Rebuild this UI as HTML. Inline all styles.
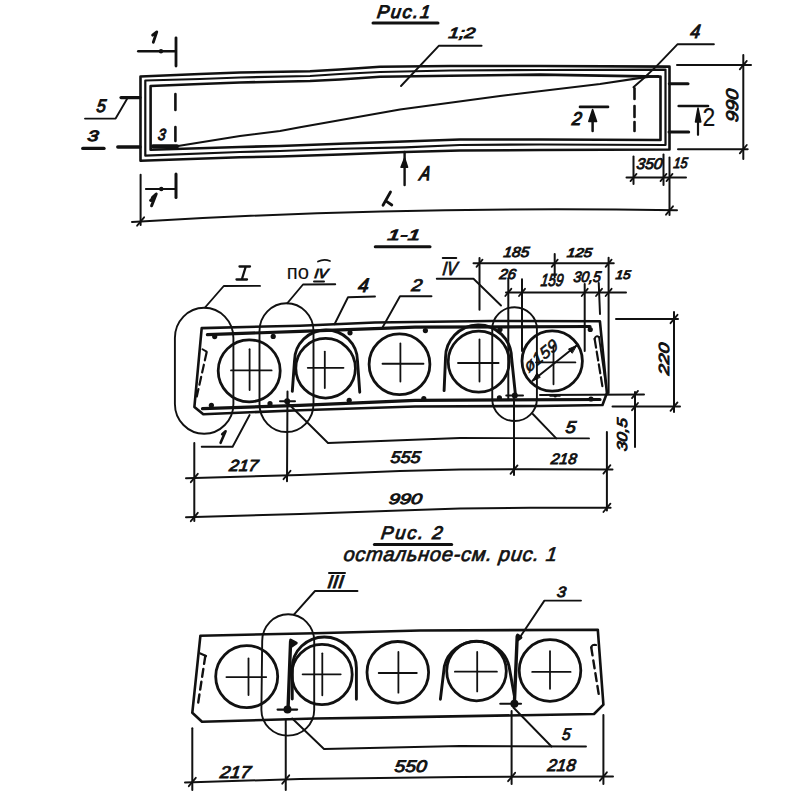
<!DOCTYPE html>
<html><head><meta charset="utf-8"><style>
html,body{margin:0;padding:0;background:#fff;}
svg{display:block;}
text{fill:#111;}
</style></head><body>
<svg width="800" height="800" viewBox="0 0 800 800">
<rect width="800" height="800" fill="#fff"/>
<g fill="none" stroke="#111" stroke-linecap="round" stroke-linejoin="round">
<path d="M373,23 L438,23" stroke-width="3" />
<path d="M140.5,76.5 L200,74 L240,72.5 L310,71.25 L340,69.5 L380,66.75 L450,66 L540,66 L669.5,66.6 L669.5,149.5 L540,150 L460,150.5 L405,152 L340,154.5 L280,156.5 L240,157.25 L140.5,160.8 Z" stroke-width="2.6" />
<path d="M145.3,80.5 L200,79 L240,77.5 L310,76 L340,74 L380,72 L450,70.5 L540,70 L665.5,69.6 L665.5,145 L540,144.5 L460,145 L405,147.3 L340,148.75 L280,151 L240,152 L145.3,155.6 Z" stroke-width="2.2" />
<path d="M150.6,86 L200,84 L240,82.5 L310,81 L340,79.5 L380,76.75 L450,75.75 L540,74.6 L660.5,76.6 L660.5,140 L540,139.5 L460,139.5 L340,143.75 L280,146 L240,147 L150.6,149.8 Z" stroke-width="2.6" />
<path d="M153,146.5 L178,146 L240,136 L280,131 L300,127.2 L400,109.5 L500,96 L600,84 L644,77.4 L658,76" stroke-width="2.1" />
<path d="M153,146.3 L177,146.3" stroke-width="4.2" />
<path d="M175.4,94 L175.4,110" stroke-width="2.6" />
<path d="M175.4,127 L175.4,141" stroke-width="2.6" />
<path d="M634.5,88.4 L634.5,99" stroke-width="2.6" />
<path d="M634.5,106 L634.5,117" stroke-width="2.6" />
<path d="M634.5,122 L634.5,131" stroke-width="2.6" />
<path d="M176,37.8 L176,66" stroke-width="2.8" />
<path d="M138.3,51.3 L175.5,51.3" stroke-width="2.6" />
<circle cx="161" cy="51.3" r="2.2" fill="#111" stroke="none"/>
<path d="M176,174 L176,197.5" stroke-width="3" />
<path d="M145.9,189 L175.5,189" stroke-width="2" />
<circle cx="161.3" cy="189" r="2.2" fill="#111" stroke="none"/>
<path d="M153.3,42.3 L156.8,31.8 L152.6,35.2" stroke-width="2.8" />
<path d="M151.6,205.8 L156.2,194 L152.4,197.6 M151.5,199.5 L150.6,200.5" stroke-width="3" />
<path d="M121,97.6 L140,97.6" stroke-width="3.2" />
<path d="M85,118.6 L115.6,118.6 L127,99" stroke-width="1.9" />
<path d="M82.8,148.4 L104,148.4" stroke-width="3.4" />
<path d="M117.8,147 L140,147" stroke-width="3.4" />
<path d="M401,86 L438.75,45.8 L481.6,45.8" stroke-width="1.9" />
<path d="M633.4,87.2 L644,78 L656.8,65.9 L677.4,44.3 L713.9,44.3" stroke-width="1.9" />
<path d="M404.6,152 L404.6,185" stroke-width="2.4" />
<path d="M401,167.3 L404.6,158 L407.6,167.3 Z" stroke-width="1.5" fill="#111"/>
<path d="M390.5,192 L383,205.2 M385.8,200.8 L391.8,205" stroke-width="2.8" />
<path d="M132,222 Q395.5,205.85 677,210.3" stroke-width="2.0" />
<path d="M140.6,174.8 L140.6,225" stroke-width="2.0" />
<path d="M137.1,225.7 L144.1,217.3" stroke-width="1.8" />
<path d="M669.5,157.5 L669.5,215" stroke-width="2.0" />
<path d="M666.0,214.7 L673.0,206.3" stroke-width="1.8" />
<path d="M626.5,177.5 L686,177.5" stroke-width="2.0" />
<path d="M633.5,156.5 L633.5,184" stroke-width="2.0" />
<path d="M663.5,154.5 L663.5,185" stroke-width="2.0" />
<path d="M630.5,181.1 L636.5,173.9" stroke-width="1.8" />
<path d="M660.5,181.1 L666.5,173.9" stroke-width="1.8" />
<path d="M666.5,181.1 L672.5,173.9" stroke-width="1.8" />
<path d="M580,106.9 L608,106.9" stroke-width="2.6" />
<path d="M592.6,118 L592.6,131" stroke-width="2.5" />
<path d="M588.8,121.5 L592.6,109.5 L596.6,121.5 Z" stroke-width="1.5" fill="#111"/>
<path d="M669.3,83.8 L688,83.8" stroke-width="3" />
<path d="M669,132 L688.7,132" stroke-width="3" />
<path d="M678.7,106 L708,106" stroke-width="2.6" />
<path d="M698,118 L698,134.8" stroke-width="2.2" />
<path d="M695.5,122 L698,108 L700.8,122 Z" stroke-width="1.5" fill="#111"/>
<path d="M677,65.1 L751,65.1" stroke-width="2.0" />
<path d="M678,149.2 L747.7,149.2" stroke-width="2.0" />
<path d="M743.3,55 L743.3,159" stroke-width="2.0" />
<path d="M739.8,69.3 L746.8,60.89999999999999" stroke-width="1.8" />
<path d="M739.8,153.39999999999998 L746.8,145.0" stroke-width="1.8" />
<path d="M375.25,246.75 L430,246.75" stroke-width="3" />
<path d="M201.7,328.1 L300,325.7 L375,322.5 L490,321 L599.9,321.25 L606.9,393 L602.5,405 L540,406 L415,406.5 L300,410.2 L203.3,414.25 L194.4,406.9 Z" stroke-width="2.6" />
<path d="M207.4,334.6 L300,331.4 L415,327.2 L590,326.5" stroke-width="3.2" />
<path d="M202.5,408.6 L300,405.3 L415,400.3 L600,399.5" stroke-width="3.2" />
<path d="M540,395 L644,394.5" stroke-width="2.0" />
<circle cx="249.2" cy="370.8" r="31" stroke-width="2.8"/>
<path d="M231,370.4 L271.6,370.4" stroke-width="1.8" />
<path d="M249.6,349.25 L249.6,390" stroke-width="1.8" />
<circle cx="325.6" cy="368.25" r="29.8" stroke-width="2.8"/>
<path d="M307.75,367.8 L343.5,367.8" stroke-width="1.8" />
<path d="M324.8,351.6 L324.8,388.1" stroke-width="1.8" />
<circle cx="399.5" cy="364.2" r="30.4" stroke-width="2.8"/>
<path d="M382.5,363.75 L423.5,363.75" stroke-width="1.8" />
<path d="M400.4,343.4 L400.4,381.6" stroke-width="1.8" />
<circle cx="478.7" cy="361.7" r="30.5" stroke-width="2.8"/>
<path d="M458,363 L498.6,363" stroke-width="1.8" />
<path d="M479.5,339.4 L479.5,381.6" stroke-width="1.8" />
<circle cx="552.2" cy="361" r="30.2" stroke-width="2.8"/>
<path d="M536,362.4 L575.4,362.4" stroke-width="1.8" />
<path d="M553.5,345.75 L553.5,384.25" stroke-width="1.8" />
<path d="M292.3,391.4 L294.5,361 A31.5,31 0 0 1 357.5,361 L359.75,392.2" stroke-width="2.9" />
<path d="M444.1,390.6 L445.5,358.6 A33,33 0 0 1 511.5,357.25 L515.6,396.25" stroke-width="2.9" />
<circle cx="214.7" cy="336.6" r="2.6" fill="#111" stroke="none"/>
<circle cx="273.2" cy="336.4" r="2.6" fill="#111" stroke="none"/>
<circle cx="350" cy="332.8" r="2.6" fill="#111" stroke="none"/>
<circle cx="425.4" cy="330.6" r="2.6" fill="#111" stroke="none"/>
<circle cx="500" cy="329.5" r="2.6" fill="#111" stroke="none"/>
<circle cx="590.25" cy="329.5" r="2.6" fill="#111" stroke="none"/>
<circle cx="211.4" cy="405.3" r="2.6" fill="#111" stroke="none"/>
<circle cx="270" cy="403.7" r="2.6" fill="#111" stroke="none"/>
<circle cx="349.2" cy="400.3" r="2.6" fill="#111" stroke="none"/>
<circle cx="423.8" cy="398.7" r="2.6" fill="#111" stroke="none"/>
<circle cx="499.4" cy="397.9" r="2.6" fill="#111" stroke="none"/>
<circle cx="591" cy="399" r="2.6" fill="#111" stroke="none"/>
<circle cx="287.2" cy="401.2" r="3" fill="#111" stroke="none"/>
<path d="M280,401.2 L295,401.2" stroke-width="2" />
<circle cx="514.8" cy="395.6" r="3" fill="#111" stroke="none"/>
<path d="M506.25,395.6 L523,395.6" stroke-width="2" />
<circle cx="555.25" cy="396" r="1.6" fill="#111" stroke="none"/>
<path d="M550,396 L560,396" stroke-width="1.5" />
<path d="M202.5,349.25 L206.6,351.7" stroke-width="2" />
<path d="M206.6,352.5 L196.8,396.4" stroke-width="2.2" stroke-dasharray="8 4.5"/>
<path d="M594.6,338.75 Q596,335 599,337" stroke-width="2" />
<path d="M594.6,338.75 L602.5,386.9" stroke-width="2.2" stroke-dasharray="9 4"/>
<path d="M599,337 L606,386" stroke-width="1.8" />
<path d="M174.9,338 A29,30 0 0 1 233.4,338 L233.4,404 A29.25,29.75 0 0 1 174.9,404 Z" stroke-width="1.9" />
<path d="M259.5,331 A27,27.75 0 0 1 313.5,331 L313.5,404 A27,28 0 0 1 259.5,404 Z" stroke-width="1.9" />
<path d="M492.25,329 A22.3,21.75 0 0 1 536.9,329 L536.9,399 A22.3,22 0 0 1 492.25,399 Z" stroke-width="1.9" />
<path d="M205,307.5 L223.75,286 L260,285.9" stroke-width="1.9" />
<path d="M239.5,266.5 L250,266.5 M245.8,266.5 L241.8,279.5 M236.5,279.5 L247,279.5" stroke-width="2.3" />
<path d="M287.25,303.25 L303,284.5 L335.25,284.2" stroke-width="1.9" />
<path d="M318,261.5 Q324,258.5 330,261" stroke-width="1.8" />
<path d="M314,281.5 L324,281.5" stroke-width="2" />
<path d="M334.5,324.25 L348,297.25 L375,296.5" stroke-width="1.9" />
<path d="M382.75,327 L400,296.25 L431.5,296.25" stroke-width="1.9" />
<path d="M436.75,278.7 L473.5,278.7 L501,305.5" stroke-width="1.9" />
<path d="M442.75,258 L456.25,258" stroke-width="2" />
<path d="M473.5,263.3 L613.75,263.3" stroke-width="2.0" />
<path d="M479.5,258 L479.5,309.75" stroke-width="2.0" />
<path d="M554.7,254 L554.7,277.4" stroke-width="2.0" />
<path d="M608.6,257.7 L608.6,393" stroke-width="2.0" />
<path d="M476.5,266.90000000000003 L482.5,259.7" stroke-width="1.8" />
<path d="M551.7,266.90000000000003 L557.7,259.7" stroke-width="1.8" />
<path d="M605.6,266.90000000000003 L611.6,259.7" stroke-width="1.8" />
<path d="M506,292.4 L626,292.4" stroke-width="2.0" />
<path d="M508.3,278.3 L508.3,400" stroke-width="2.0" />
<path d="M522,279.25 L522,351" stroke-width="2.0" />
<path d="M584.7,284 L584.7,351" stroke-width="2.0" />
<path d="M598.75,283 L600,314" stroke-width="2.0" />
<path d="M505.3,296.0 L511.3,288.79999999999995" stroke-width="1.8" />
<path d="M519,296.0 L525,288.79999999999995" stroke-width="1.8" />
<path d="M581.7,296.0 L587.7,288.79999999999995" stroke-width="1.8" />
<path d="M596,296.0 L602,288.79999999999995" stroke-width="1.8" />
<path d="M605.6,296.0 L611.6,288.79999999999995" stroke-width="1.8" />
<path d="M532.5,380.75 L576.25,345.75" stroke-width="2.0" />
<path d="M532.5,380.75 L537,373 L540,377 Z" stroke-width="1" fill="#111"/>
<path d="M576.25,345.75 L568.5,349 L572,353 Z" stroke-width="1" fill="#111"/>
<path d="M616,319 L678,319" stroke-width="2.0" />
<path d="M612.5,406.6 L680,406.6" stroke-width="2.0" />
<path d="M674,312 L674,412" stroke-width="2.0" />
<path d="M670.5,323.2 L677.5,314.8" stroke-width="1.8" />
<path d="M670.5,410.8 L677.5,402.40000000000003" stroke-width="1.8" />
<path d="M635,392 L635,447" stroke-width="2.0" />
<path d="M632,398.1 L638,390.9" stroke-width="1.8" />
<path d="M632,410.20000000000005 L638,403.0" stroke-width="1.8" />
<path d="M201.7,446.75 L232.6,446.75 L249.6,415" stroke-width="1.9" />
<path d="M220.6,442.8 L225.6,431.2 L222.2,434.2" stroke-width="2.6" />
<path d="M287.4,402.75 L328,443 L460,438 L589,438.4" stroke-width="1.9" />
<path d="M532.8,414 L556.25,438.4" stroke-width="1.9" />
<path d="M194.3,443 L194.3,521" stroke-width="2.0" />
<path d="M287.5,391.4 L287,481.25" stroke-width="2.0" />
<path d="M514,396 L514,475" stroke-width="2.0" />
<path d="M606.9,432 L606.9,510.6" stroke-width="2.0" />
<path d="M186,478.25 L300,475 L400,471 L460,469.5 L530,469.2 L612.5,469.4" stroke-width="2.0" />
<path d="M186,517.25 L300,514 L400,510.5 L460,508.5 L530,507.8 L610.6,507.8" stroke-width="2.0" />
<path d="M190.8,482.2 L197.8,473.8" stroke-width="1.8" />
<path d="M283.5,479.2 L290.5,470.8" stroke-width="1.8" />
<path d="M510.5,473.8 L517.5,465.40000000000003" stroke-width="1.8" />
<path d="M603.4,473.59999999999997 L610.4,465.2" stroke-width="1.8" />
<path d="M190.8,521.2 L197.8,512.8" stroke-width="1.8" />
<path d="M603.4,512.0 L610.4,503.6" stroke-width="1.8" />
<path d="M374.4,544.5 L451.7,544.5" stroke-width="3" />
<path d="M200.4,635.7 L315,633.25 L420,630.5 L597.8,629.7 L603.4,704.7 L594,714 L380,717.6 L315,718.5 L202,721.75 L192.3,712.8 Z" stroke-width="2.6" />
<circle cx="246.7" cy="676.6" r="31" stroke-width="2.8"/>
<path d="M226.4,677.1 L266.25,677.1" stroke-width="1.8" />
<path d="M248.5,658.4 L248.5,695" stroke-width="1.8" />
<circle cx="322" cy="674.5" r="30.2" stroke-width="2.8"/>
<path d="M302.6,674.3 L340.7,674.3" stroke-width="1.8" />
<path d="M322.3,653.3 L322.3,695.3" stroke-width="1.8" />
<circle cx="397.8" cy="672.3" r="30.8" stroke-width="2.8"/>
<path d="M378.7,673 L416.8,673" stroke-width="1.8" />
<path d="M398.4,652 L398.4,692.7" stroke-width="1.8" />
<circle cx="476.5" cy="671" r="29.8" stroke-width="2.8"/>
<path d="M454.9,671.7 L496.9,671.7" stroke-width="1.8" />
<path d="M477.2,652 L477.2,691.4" stroke-width="1.8" />
<circle cx="550" cy="670.5" r="30.8" stroke-width="2.8"/>
<path d="M532.2,671.9 L570.6,671.9" stroke-width="1.8" />
<path d="M550,651.25 L550,688.75" stroke-width="1.8" />
<path d="M292.25,699 L292.3,668 A32,31 0 0 1 356.4,668 L356.4,699.2" stroke-width="2.9" />
<path d="M440.4,699.2 L444.4,666 A33,31 0 0 1 509,666 L514.4,696" stroke-width="2.9" />
<path d="M290.6,641.5 L288,710" stroke-width="3.4" />
<path d="M290.6,640 L296.3,643 L291.5,646.25" stroke-width="2.8" fill="#111"/>
<path d="M517.2,636.25 L514.4,703" stroke-width="3.4" />
<path d="M517.5,635 L521,637.5 L517.5,640" stroke-width="2.8" fill="#111"/>
<circle cx="287.5" cy="709.6" r="4" fill="#111" stroke="none"/>
<path d="M277.6,709.6 L297.1,709.6" stroke-width="2.2" />
<circle cx="514.4" cy="703.75" r="4" fill="#111" stroke="none"/>
<path d="M500.3,703.75 L521,703.75" stroke-width="2.2" />
<path d="M200.4,653.5 L206,656" stroke-width="2.2" />
<path d="M205.3,656 L198,703.9" stroke-width="2.4" stroke-dasharray="8 5"/>
<path d="M591.25,647.5 Q592,644 596,645" stroke-width="2.2" />
<path d="M591.25,647.5 L598.75,694.4" stroke-width="2.4" stroke-dasharray="8 5"/>
<path d="M262.2,641 A25.6,26.4 0 0 1 314.2,641 L314.2,710 A26.4,25.6 0 0 1 261.4,710 Z" stroke-width="1.9" />
<path d="M293.9,614.6 L315,591 L357.5,591" stroke-width="1.9" />
<path d="M329,573 L345,573" stroke-width="2" />
<path d="M518.1,640 L544.4,600.6 L581,600.6" stroke-width="1.9" />
<path d="M292.25,718.5 L324,749 L460,746 L586,746.5" stroke-width="1.9" />
<path d="M513.4,707.5 L551.5,746.5" stroke-width="1.9" />
<path d="M192.3,728.25 L192.3,790" stroke-width="2.0" />
<path d="M285.75,720 L285.75,790" stroke-width="2.0" />
<path d="M511.6,711 L511.6,784" stroke-width="2.0" />
<path d="M603.4,715 L603.4,784" stroke-width="2.0" />
<path d="M185,782.5 L300,779 L460,777 L613,776.5" stroke-width="2.0" />
<path d="M188.8,786.2 L195.8,777.8" stroke-width="1.8" />
<path d="M282.25,783.7 L289.25,775.3" stroke-width="1.8" />
<path d="M508.1,781.2 L515.1,772.8" stroke-width="1.8" />
<path d="M599.9,780.7 L606.9,772.3" stroke-width="1.8" />
</g>
<text x="0" y="0" font-family="Liberation Sans" font-style="italic" font-weight="normal" font-size="18.181" textLength="53.039" lengthAdjust="spacing" stroke="#111" stroke-width="1.0" transform="translate(376.500,18.000) skewX(-7)">Рис.1</text>
<text x="0" y="0" font-family="Liberation Sans" font-style="italic" font-weight="normal" font-size="14.845" textLength="26.815" lengthAdjust="spacingAndGlyphs" stroke="#111" stroke-width="0.9" transform="translate(448.000,37.500) skewX(-7)">1;2</text>
<text x="0" y="0" font-family="Liberation Sans" font-style="italic" font-weight="normal" font-size="19.340" textLength="9.919" lengthAdjust="spacingAndGlyphs" stroke="#111" stroke-width="1.0" transform="translate(689.800,38.300) skewX(-7)">4</text>
<text x="0" y="0" font-family="Liberation Sans" font-style="italic" font-weight="normal" font-size="18.032" textLength="9.243" lengthAdjust="spacingAndGlyphs" stroke="#111" stroke-width="1.0" transform="translate(96.000,112.400) skewX(-7)">5</text>
<text x="0" y="0" font-family="Liberation Sans" font-style="italic" font-weight="normal" font-size="14.896" textLength="11.017" lengthAdjust="spacingAndGlyphs" stroke="#111" stroke-width="1.0" transform="translate(87.100,140.700) skewX(-7)">3</text>
<text x="0" y="0" font-family="Liberation Sans" font-style="italic" font-weight="normal" font-size="16.016" textLength="7.661" lengthAdjust="spacingAndGlyphs" stroke="#111" stroke-width="1.0" transform="translate(157.500,140.000) skewX(-7)">3</text>
<text x="0" y="0" font-family="Liberation Sans" font-style="italic" font-weight="normal" font-size="19.675" textLength="10.225" lengthAdjust="spacingAndGlyphs" stroke="#111" stroke-width="1.3" transform="translate(419.000,179.500) skewX(-12)">A</text>
<text x="0" y="0" font-family="Liberation Sans" font-style="italic" font-weight="normal" font-size="18.422" textLength="9.507" lengthAdjust="spacingAndGlyphs" stroke="#111" stroke-width="1.1" transform="translate(571.500,124.600) skewX(-7)">2</text>
<text x="0" y="0" font-family="Liberation Sans" font-style="normal" font-weight="normal" font-size="25.000" textLength="12.748" lengthAdjust="spacingAndGlyphs" stroke="#111" stroke-width="0.2" transform="translate(702.500,126.200)">2</text>
<text x="0" y="0" font-family="Liberation Sans" font-style="italic" font-weight="normal" font-size="15.385" textLength="26.036" lengthAdjust="spacingAndGlyphs" stroke="#111" stroke-width="0.9" transform="translate(636.000,169.000) skewX(-7)">350</text>
<text x="0" y="0" font-family="Liberation Sans" font-style="italic" font-weight="normal" font-size="14.808" textLength="14.173" lengthAdjust="spacingAndGlyphs" stroke="#111" stroke-width="0.9" transform="translate(673.000,168.000) skewX(-7)">15</text>
<text x="0" y="0" font-family="Liberation Sans" font-style="italic" font-weight="normal" font-size="16.940" textLength="33.057" lengthAdjust="spacingAndGlyphs" stroke="#111" stroke-width="0.9" transform="translate(737.500,122.500) rotate(-90) skewX(-7)">990</text>
<text x="0" y="0" font-family="Liberation Sans" font-style="italic" font-weight="normal" font-size="14.896" textLength="32.797" lengthAdjust="spacingAndGlyphs" stroke="#111" stroke-width="0.9" transform="translate(387.000,239.500) skewX(-7)">1-1</text>
<text x="0" y="0" font-family="Liberation Sans" font-style="normal" font-weight="normal" font-size="20.707" textLength="22.154" lengthAdjust="spacingAndGlyphs" stroke="#111" stroke-width="0.1" transform="translate(286.750,278.500)">по</text>
<text x="0" y="0" font-family="Liberation Sans" font-style="italic" font-weight="normal" font-size="13.009" textLength="13.355" lengthAdjust="spacingAndGlyphs" stroke="#111" stroke-width="0.9" transform="translate(314.000,278.000) skewX(-7)">IV</text>
<text x="0" y="0" font-family="Liberation Sans" font-style="italic" font-weight="normal" font-size="19.618" textLength="10.583" lengthAdjust="spacingAndGlyphs" stroke="#111" stroke-width="1.0" transform="translate(357.500,291.750) skewX(-7)">4</text>
<text x="0" y="0" font-family="Liberation Sans" font-style="italic" font-weight="normal" font-size="17.034" textLength="10.641" lengthAdjust="spacingAndGlyphs" stroke="#111" stroke-width="0.9" transform="translate(411.000,290.750) skewX(-7)">2</text>
<text x="0" y="0" font-family="Liberation Sans" font-style="italic" font-weight="normal" font-size="18.979" textLength="14.580" lengthAdjust="spacingAndGlyphs" stroke="#111" stroke-width="0.9" transform="translate(442.000,274.750) skewX(-7)">IV</text>
<text x="0" y="0" font-family="Liberation Sans" font-style="italic" font-weight="normal" font-size="14.488" textLength="25.704" lengthAdjust="spacingAndGlyphs" stroke="#111" stroke-width="0.9" transform="translate(503.000,256.700) skewX(-7)">185</text>
<text x="0" y="0" font-family="Liberation Sans" font-style="italic" font-weight="normal" font-size="12.760" textLength="25.140" lengthAdjust="spacingAndGlyphs" stroke="#111" stroke-width="0.9" transform="translate(566.500,257.100) skewX(-7)">125</text>
<text x="0" y="0" font-family="Liberation Sans" font-style="italic" font-weight="normal" font-size="14.437" textLength="16.526" lengthAdjust="spacingAndGlyphs" stroke="#111" stroke-width="0.9" transform="translate(498.900,278.700) skewX(-7)">26</text>
<text x="0" y="0" font-family="Liberation Sans" font-style="italic" font-weight="normal" font-size="17.415" textLength="22.669" lengthAdjust="spacingAndGlyphs" stroke="#111" stroke-width="0.9" transform="translate(540.200,286.250) skewX(-7)">159</text>
<text x="0" y="0" font-family="Liberation Sans" font-style="italic" font-weight="normal" font-size="15.206" textLength="27.538" lengthAdjust="spacingAndGlyphs" stroke="#111" stroke-width="0.9" transform="translate(572.900,281.500) skewX(-7)">30,5</text>
<text x="0" y="0" font-family="Liberation Sans" font-style="italic" font-weight="normal" font-size="12.532" textLength="14.884" lengthAdjust="spacingAndGlyphs" stroke="#111" stroke-width="0.9" transform="translate(615.200,279.200) skewX(-7)">15</text>
<text x="0" y="0" font-family="Liberation Sans" font-style="italic" font-weight="normal" font-size="14.603" textLength="32.085" lengthAdjust="spacingAndGlyphs" stroke="#111" stroke-width="0.9" transform="translate(669.000,375.500) rotate(-90) skewX(-7)">220</text>
<text x="0" y="0" font-family="Liberation Sans" font-style="italic" font-weight="normal" font-size="17.254" textLength="10.251" lengthAdjust="spacingAndGlyphs" stroke="#111" stroke-width="0.9" transform="translate(565.100,433.200) skewX(-7)">5</text>
<text x="0" y="0" font-family="Liberation Sans" font-style="italic" font-weight="normal" font-size="14.259" textLength="33.006" lengthAdjust="spacingAndGlyphs" stroke="#111" stroke-width="0.9" transform="translate(627.300,451.600) rotate(-90) skewX(-7)">30,5</text>
<text x="0" y="0" font-family="Liberation Sans" font-style="italic" font-weight="normal" font-size="16.044" textLength="28.969" lengthAdjust="spacingAndGlyphs" stroke="#111" stroke-width="0.9" transform="translate(228.750,470.500) skewX(-7)">217</text>
<text x="0" y="0" font-family="Liberation Sans" font-style="italic" font-weight="normal" font-size="16.766" textLength="30.118" lengthAdjust="spacingAndGlyphs" stroke="#111" stroke-width="0.9" transform="translate(390.000,463.000) skewX(-7)">555</text>
<text x="0" y="0" font-family="Liberation Sans" font-style="italic" font-weight="normal" font-size="15.211" textLength="25.557" lengthAdjust="spacingAndGlyphs" stroke="#111" stroke-width="0.9" transform="translate(550.600,463.700) skewX(-7)">218</text>
<text x="0" y="0" font-family="Liberation Sans" font-style="italic" font-weight="normal" font-size="14.935" textLength="33.057" lengthAdjust="spacingAndGlyphs" stroke="#111" stroke-width="0.9" transform="translate(388.500,503.500) skewX(-7)">990</text>
<text x="0" y="0" font-family="Liberation Sans" font-style="italic" font-weight="normal" font-size="18.340" textLength="61.510" lengthAdjust="spacing" stroke="#111" stroke-width="0.9" transform="translate(380.500,539.300) skewX(-7)">Рис. 2</text>
<text x="0" y="0" font-family="Liberation Sans" font-style="italic" font-weight="normal" font-size="20.026" textLength="213.626" lengthAdjust="spacing" stroke="#111" stroke-width="0.7" transform="translate(342.900,560.500) skewX(-7)">остальное-см. рис. 1</text>
<text x="0" y="0" font-family="Liberation Sans" font-style="italic" font-weight="normal" font-size="18.241" textLength="15.997" lengthAdjust="spacingAndGlyphs" stroke="#111" stroke-width="0.9" transform="translate(327.000,588.000) skewX(-7)">III</text>
<text x="0" y="0" font-family="Liberation Sans" font-style="italic" font-weight="normal" font-size="14.896" textLength="9.020" lengthAdjust="spacingAndGlyphs" stroke="#111" stroke-width="0.9" transform="translate(556.600,596.800) skewX(-7)">3</text>
<text x="0" y="0" font-family="Liberation Sans" font-style="italic" font-weight="normal" font-size="16.933" textLength="8.515" lengthAdjust="spacingAndGlyphs" stroke="#111" stroke-width="0.9" transform="translate(561.500,739.500) skewX(-7)">5</text>
<text x="0" y="0" font-family="Liberation Sans" font-style="italic" font-weight="normal" font-size="17.034" textLength="30.929" lengthAdjust="spacingAndGlyphs" stroke="#111" stroke-width="0.9" transform="translate(219.500,778.000) skewX(-7)">217</text>
<text x="0" y="0" font-family="Liberation Sans" font-style="italic" font-weight="normal" font-size="16.766" textLength="32.111" lengthAdjust="spacingAndGlyphs" stroke="#111" stroke-width="0.9" transform="translate(394.000,772.000) skewX(-7)">550</text>
<text x="0" y="0" font-family="Liberation Sans" font-style="italic" font-weight="normal" font-size="16.933" textLength="28.125" lengthAdjust="spacingAndGlyphs" stroke="#111" stroke-width="0.9" transform="translate(547.000,771.000) skewX(-7)">218</text>
<text x="0" y="0" font-family="Liberation Sans" font-style="italic" font-weight="normal" font-size="16.648" textLength="39.766" lengthAdjust="spacingAndGlyphs" stroke="#111" stroke-width="0.6" transform="translate(528.500,373.000) rotate(-39) skewX(-7)">ø159</text>
</svg>
</body></html>
